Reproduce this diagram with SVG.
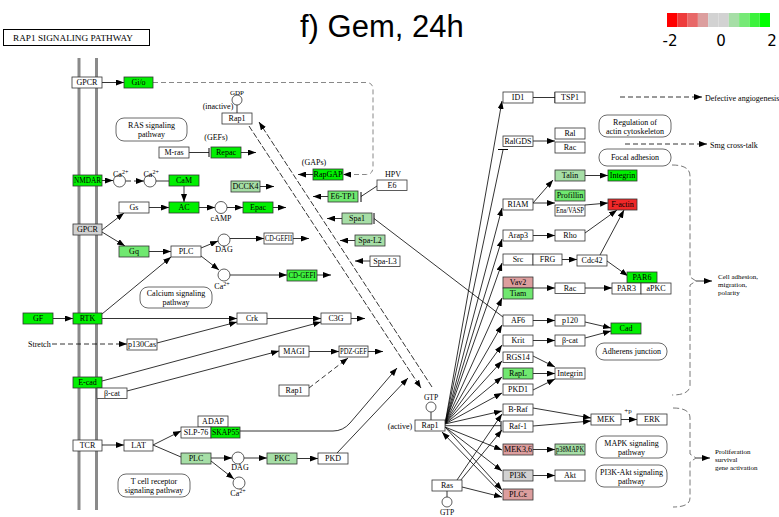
<svg xmlns="http://www.w3.org/2000/svg" width="779" height="517" viewBox="0 0 779 517">
<style>
.n{stroke:#333;stroke-width:0.8}
.w{fill:#fff}.g1{fill:#a6dea6}.g2{fill:#70e870}.g3{fill:#3df23d}.g4{fill:#00f000}.gr{fill:#d2d2d2}.p{fill:#dc9e9e}.r{fill:#f02828}
text{font-family:"Liberation Serif","Times New Roman",serif;font-size:8px;text-anchor:middle;fill:#000}
.s{text-anchor:start}
.o{font-size:7px}
.e{fill:none;stroke:#000;stroke-width:0.8}
.d{stroke-dasharray:5,3}
.bar{stroke:#000;stroke-width:1}
.pw{fill:#fff;stroke:#444;stroke-width:0.8}
.c{fill:#fff;stroke:#333;stroke-width:0.8}
.mem{stroke:#8a8a8a;stroke-width:3}
.br{fill:none;stroke:#555;stroke-width:0.8;stroke-dasharray:6,3}
</style>
<defs>
<marker id="a" viewBox="0 0 8 6" refX="8" refY="3" markerWidth="8" markerHeight="6" markerUnits="userSpaceOnUse" orient="auto"><path d="M0,0L8,3L0,6z" fill="#000"/></marker>
</defs>
<rect width="779" height="517" fill="#fff"/>
<text x="300" y="37" style="font-family:'Liberation Sans',Arial,sans-serif;font-size:31px;text-anchor:start">f) Gem, 24h</text>
<g id="legend">
<rect x="667" y="13" width="10.3" height="14" fill="#ff0000"/>
<rect x="677.3" y="13" width="10.3" height="14" fill="#ee3b3b"/>
<rect x="687.6" y="13" width="10.3" height="14" fill="#e86868"/>
<rect x="697.9" y="13" width="10.3" height="14" fill="#dc9e9e"/>
<rect x="708.2" y="13" width="10.3" height="14" fill="#d2d2d2"/>
<rect x="718.5" y="13" width="10.3" height="14" fill="#d2d2d2"/>
<rect x="728.8" y="13" width="10.3" height="14" fill="#a6dea6"/>
<rect x="739.1" y="13" width="10.3" height="14" fill="#76e976"/>
<rect x="749.4" y="13" width="10.3" height="14" fill="#3df23d"/>
<rect x="759.7" y="13" width="10.3" height="14" fill="#00ff00"/>
<text x="670" y="46" style="font-family:'DejaVu Sans',sans-serif;font-size:15px">-2</text>
<text x="721" y="46" style="font-family:'DejaVu Sans',sans-serif;font-size:15px">0</text>
<text x="772" y="46" style="font-family:'DejaVu Sans',sans-serif;font-size:15px">2</text>
</g>
<g id="header"><rect x="3.5" y="29.5" width="146" height="16" fill="#fff" stroke="#000" stroke-width="1"/><text class="s" x="13" y="41" textLength="120" lengthAdjust="spacingAndGlyphs">RAP1 SIGNALING PATHWAY</text></g>
<line class="mem" x1="79" y1="58" x2="79" y2="510"/>
<line class="mem" x1="96.5" y1="58" x2="96.5" y2="510"/>
<g id="edges">
<path class="e" d="M102,82.5H124" marker-end="url(#a)"/>
<path d="M153,82.5H366Q373,82.5 373,89.5V167Q373,174.5 366,174.5H343" fill="none" stroke="#888" stroke-width="1" stroke-dasharray="5,3" marker-end="url(#a)"/>
<path class="e" d="M189,152.5H209"/><line class="bar" x1="209" y1="148" x2="209" y2="157"/>
<path class="e" d="M241,152.5H256" marker-end="url(#a)"/>
<path class="e" d="M102,180.5H113" marker-end="url(#a)"/>
<path class="e d" d="M126,181H144" marker-end="url(#a)"/>
<path class="e" d="M156,181H169"/>
<path class="e" d="M184,186V202" marker-end="url(#a)"/>
<path class="e" d="M149,207.5H169" marker-end="url(#a)"/>
<path class="e" d="M199,207.5H215" marker-end="url(#a)"/>
<path class="e" d="M227,207.5H243" marker-end="url(#a)"/>
<path class="e" d="M273,207.5H286" marker-end="url(#a)"/>
<path class="e" d="M260,186.5H274" marker-end="url(#a)"/>
<path class="e" d="M102,230L124,213" marker-end="url(#a)"/>
<path class="e" d="M102,232L125,246" marker-end="url(#a)"/>
<path class="e" d="M149,251.5H171" marker-end="url(#a)"/>
<path class="e" d="M201,248L218,241" marker-end="url(#a)"/>
<path class="e" d="M201,256L219,270" marker-end="url(#a)"/>
<path class="e" d="M230,238.5H264" marker-end="url(#a)"/>
<path class="e" d="M293,238.5H309" marker-end="url(#a)"/>
<path class="e" d="M230,275H287" marker-end="url(#a)"/>
<path class="e" d="M317,275H331" marker-end="url(#a)"/>
<path class="e" d="M53,318.5H73" marker-end="url(#a)"/>
<path class="e" d="M102,318.5H237" marker-end="url(#a)"/>
<path class="e" d="M102,314L171,257" marker-end="url(#a)"/>
<path class="e d" d="M52,344H127" marker-end="url(#a)"/>
<path class="e" d="M157,343L237,322" marker-end="url(#a)"/>
<path class="e" d="M267,318.5H321" marker-end="url(#a)"/>
<path class="e" d="M351,318.5H365" marker-end="url(#a)"/>
<path class="e" d="M102,381L321,322" marker-end="url(#a)"/>
<path class="e" d="M127,391L279,351" marker-end="url(#a)"/>
<path class="e" d="M309,351.5H339" marker-end="url(#a)"/>
<path class="e" d="M368,351.5H383" marker-end="url(#a)"/>
<path class="e d" d="M309,388L348,358" marker-end="url(#a)"/>
<path class="e" d="M102,445H124" marker-end="url(#a)"/>
<path class="e" d="M153,445L181,431" marker-end="url(#a)"/>
<path class="e" d="M153,445L181,457"/>
<path class="e" d="M211,458H232" marker-end="url(#a)"/>
<path class="e" d="M211,461L234,479" marker-end="url(#a)"/>
<path class="e" d="M244,458H267" marker-end="url(#a)"/>
<path class="e" d="M297,458.5H318" marker-end="url(#a)"/>
<path class="e" d="M337,453L408,378" marker-end="url(#a)"/>
<path class="e" d="M240,431H333Q343,431 350,423L397,368" marker-end="url(#a)"/>
<path class="e" d="M249,126L421,388" stroke-dasharray="6,2" marker-end="url(#a)"/>
<path class="e" d="M432,387L259,122" stroke-dasharray="6,2" marker-end="url(#a)"/>
<path class="e" d="M377,186L361,196.5"/><line class="bar" x1="361" y1="192" x2="361" y2="202"/>
<path class="e" d="M328,196.5H313" marker-end="url(#a)"/>
<path class="e" d="M313,174.5H298" marker-end="url(#a)"/>
<path class="e" d="M342,218.5H327" marker-end="url(#a)"/>
<path class="e" d="M503,317L374,218.5"/><line class="bar" x1="374" y1="213" x2="374" y2="224"/>
<path class="e" d="M355,240.5H340" marker-end="url(#a)"/>
<path class="e" d="M370,261H355" marker-end="url(#a)"/>
<path class="e" d="M533,97.5H555"/><line class="bar" x1="555" y1="92" x2="555" y2="103"/>
<path class="e d" d="M620,97H702" marker-end="url(#a)"/>
<path class="e" d="M533,141H555" marker-end="url(#a)"/>
<path class="e d" d="M625,144H707" marker-end="url(#a)"/>
<path class="e" d="M585,175.5H608" marker-end="url(#a)"/>
<path class="e" d="M533,203L553,180" marker-end="url(#a)"/>
<path class="e" d="M533,203H555" marker-end="url(#a)"/>
<path class="e" d="M585,205L608,203" marker-end="url(#a)"/>
<path class="e" d="M533,235.5H555" marker-end="url(#a)"/>
<path class="e" d="M585,233L617,210" marker-end="url(#a)"/>
<path class="e" d="M562,259.5H577" marker-end="url(#a)"/>
<path class="e" d="M600,255L624,210" marker-end="url(#a)"/>
<path class="e" d="M607,261L628,276" marker-end="url(#a)"/>
<path class="e" d="M533,288H555" marker-end="url(#a)"/>
<path class="e" d="M585,288H612" marker-end="url(#a)"/>
<path class="e" d="M533,320.5H555" marker-end="url(#a)"/>
<path class="e" d="M585,322L611,328" marker-end="url(#a)"/>
<path class="e" d="M533,340.5H555" marker-end="url(#a)"/>
<path class="e" d="M585,338L611,331" marker-end="url(#a)"/>
<path class="e" d="M533,356L555,367" marker-end="url(#a)"/>
<path class="e" d="M533,373.5H555" marker-end="url(#a)"/>
<path class="e" d="M533,390L555,379" marker-end="url(#a)"/>
<path class="e" d="M533,408L591,418" marker-end="url(#a)"/>
<path class="e" d="M533,426L591,421" marker-end="url(#a)"/>
<path class="e" d="M621,419.5H637" marker-end="url(#a)"/>
<path class="e" d="M533,449.5H555" marker-end="url(#a)"/>
<path class="e" d="M533,475.5H555" marker-end="url(#a)"/>
<path class="br" d="M672,165Q690,165 690,176V277L696,281L690,285V385Q690,395 672,395"/>
<path class="e" d="M696,281H712" marker-end="url(#a)"/>
<path class="br" d="M673,408Q690,408 690,418V454L696,458L690,462V498Q690,507 673,507"/>
<path class="e" d="M696,458H710" marker-end="url(#a)"/>
<path class="e" d="M445,424L502,101" marker-end="url(#a)"/>
<path class="e" d="M445,424L503,150"/><line class="bar" x1="498" y1="149.5" x2="508" y2="149.5"/>
<path class="e" d="M445,424L502,208" marker-end="url(#a)"/>
<path class="e" d="M445,424L502,239" marker-end="url(#a)"/>
<path class="e" d="M445,424L502,263" marker-end="url(#a)"/>
<path class="e" d="M445,424L502,298" marker-end="url(#a)"/>
<path class="e" d="M445,424L502,325" marker-end="url(#a)"/>
<path class="e" d="M445,424L502,345" marker-end="url(#a)"/>
<path class="e" d="M445,424L502,361" marker-end="url(#a)"/>
<path class="e" d="M445,424L502,377" marker-end="url(#a)"/>
<path class="e" d="M445,424L502,393" marker-end="url(#a)"/>
<path class="e" d="M445,424L502,411" marker-end="url(#a)"/>
<path class="e" d="M445,425.7H501"/><line class="bar" x1="501" y1="421" x2="501" y2="431"/>
<path class="e" d="M445,427L502,450" marker-end="url(#a)"/>
<path class="e" d="M445,427L502,471" marker-end="url(#a)"/>
<path class="e" d="M445,427L502,490" marker-end="url(#a)"/>
<path class="e" d="M502,494L442,432" marker-end="url(#a)"/>
<path class="e" d="M457,480L502,414" marker-end="url(#a)"/>
<path class="e" d="M460,481L502,430" marker-end="url(#a)"/>
<path class="e" d="M462,487L502,497" marker-end="url(#a)"/>
<path class="e" d="M237,105V113"/>
<path class="e" d="M431,412V420"/>
<path class="e" d="M447,491V497"/>
</g>
<g id="map-ras"><rect class="pw" x="116" y="118" width="71" height="23" rx="8"/><text x="151.5" y="128">RAS signaling</text><text x="151.5" y="137">pathway</text></g>
<g id="map-calcium"><rect class="pw" x="140" y="287" width="72" height="21" rx="8"/><text x="176" y="296">Calcium signaling</text><text x="176" y="305">pathway</text></g>
<g id="map-tcr"><rect class="pw" x="118" y="474" width="72" height="23" rx="8"/><text x="154" y="484">T cell receptor</text><text x="154" y="493">signaling pathway</text></g>
<g id="map-actin"><rect class="pw" x="599" y="115" width="72" height="22" rx="8"/><text x="635" y="125">Regulation of</text><text x="635" y="133.5">actin cytoskeleton</text></g>
<g id="map-focal"><rect class="pw" x="599" y="149" width="72" height="17" rx="8"/><text x="635" y="160">Focal adhesion</text></g>
<g id="map-adherens"><rect class="pw" x="596" y="343" width="71" height="17" rx="8"/><text x="631.5" y="354">Adherens junction</text></g>
<g id="map-mapk"><rect class="pw" x="596" y="436" width="71" height="22" rx="8"/><text x="631.5" y="446">MAPK signaling</text><text x="631.5" y="455">pathway</text></g>
<g id="map-pi3k"><rect class="pw" x="596" y="465" width="71" height="22" rx="8"/><text x="631.5" y="475">PI3K-Akt signaling</text><text x="631.5" y="484">pathway</text></g>
<g id="n-GPCR1"><rect class="n w" x="72" y="77" width="30" height="11"/><text x="87" y="85.3">GPCR</text></g>
<g id="n-Gio"><rect class="n g4" x="124" y="77" width="29" height="11"/><text x="138.5" y="85.3">Gi/o</text></g>
<g id="n-Rap1-inactive"><rect class="n w" x="222" y="113" width="30" height="11"/><text x="237" y="121.3">Rap1</text></g>
<g id="n-GDP"><circle class="c" cx="237" cy="100" r="5"/><text x="237" y="94.5" style="font-size:7px">GDP</text><text x="218" y="109">(inactive)</text></g>
<g id="n-Mras"><rect class="n w" x="159" y="147" width="30" height="11"/><text x="174" y="155.3">M-ras</text></g>
<g id="n-Repac"><rect class="n g4" x="211" y="147" width="30" height="11"/><text x="226" y="155.3">Repac</text><text x="216" y="140">(GEFs)</text></g>
<g id="n-NMDAR"><rect class="n g4" x="73" y="175" width="29" height="11"/><text x="87.5" y="183.3" textLength="27" lengthAdjust="spacingAndGlyphs">NMDAR</text></g>
<g id="n-Ca1"><circle class="c" cx="119.5" cy="181" r="6"/><text class="s" x="113" y="177">Ca<tspan style="font-size:6px" dy="-3">2+</tspan></text></g>
<g id="n-Ca2"><circle class="c" cx="150" cy="181" r="6"/><text class="s" x="143.5" y="177">Ca<tspan style="font-size:6px" dy="-3">2+</tspan></text></g>
<g id="n-CaM"><rect class="n g4" x="169" y="175" width="30" height="11"/><text x="184" y="183.3">CaM</text></g>
<g id="n-DCCK4"><rect class="n g1" x="231" y="181" width="29" height="11"/><text x="245.5" y="189.3">DCCK4</text></g>
<g id="n-Gs"><rect class="n w" x="119" y="202" width="30" height="11"/><text x="134" y="210.3">Gs</text></g>
<g id="n-AC"><rect class="n g4" x="169" y="202" width="30" height="11"/><text x="184" y="210.3">AC</text></g>
<g id="n-cAMP"><circle class="c" cx="221" cy="207.5" r="6"/><text x="221" y="221">cAMP</text></g>
<g id="n-Epac"><rect class="n g4" x="243" y="202" width="30" height="11"/><text x="258" y="210.3">Epac</text></g>
<g id="n-GPCR2"><rect class="n gr" x="73" y="224" width="29" height="11"/><text x="87.5" y="232.3">GPCR</text></g>
<g id="n-Gq"><rect class="n g2" x="119" y="246" width="30" height="11"/><text x="134" y="254.3">Gq</text></g>
<g id="n-PLC1"><rect class="n w" x="171" y="246" width="30" height="11"/><text x="186" y="254.3">PLC</text></g>
<g id="n-DAG1"><circle class="c" cx="224" cy="240" r="6"/><text x="224" y="252">DAG</text></g>
<g id="n-Ca3"><circle class="c" cx="224" cy="275" r="6"/><text x="222" y="289">Ca<tspan style="font-size:6px" dy="-3">2+</tspan></text></g>
<g id="n-CDGEFII"><rect class="n w" x="264" y="233" width="29" height="11"/><text x="278.5" y="241.3" textLength="27" lengthAdjust="spacingAndGlyphs">CD-GEFII</text></g>
<g id="n-CDGEFI"><rect class="n g3" x="287" y="270" width="30" height="11"/><text x="302" y="278.3" textLength="27" lengthAdjust="spacingAndGlyphs">CD-GEFI</text></g>
<g id="n-GF"><rect class="n g4" x="23" y="313" width="30" height="11"/><text x="38" y="321.3">GF</text></g>
<g id="n-RTK"><rect class="n g4" x="73" y="313" width="29" height="11"/><text x="87.5" y="321.3">RTK</text></g>
<g id="n-Crk"><rect class="n w" x="237" y="313" width="30" height="11"/><text x="252" y="321.3">Crk</text></g>
<g id="n-C3G"><rect class="n w" x="321" y="313" width="30" height="11"/><text x="336" y="321.3">C3G</text></g>
<g id="n-p130Cas"><rect class="n w" x="127" y="339" width="30" height="11"/><text x="142" y="347.3" textLength="28" lengthAdjust="spacingAndGlyphs">p130Cas</text><text class="s" x="28" y="346.5">Stretch</text></g>
<g id="n-MAGI"><rect class="n w" x="279" y="346" width="30" height="11"/><text x="294" y="354.3">MAGI</text></g>
<g id="n-PDZGEF"><rect class="n w" x="339" y="346" width="29" height="11"/><text x="353.5" y="354.3" textLength="27" lengthAdjust="spacingAndGlyphs">PDZ-GEF</text></g>
<g id="n-Ecad"><rect class="n g4" x="73" y="377" width="29" height="11"/><text x="87.5" y="385.3">E-cad</text></g>
<g id="n-bcat1"><rect class="n w" x="97" y="388" width="30" height="10.5"/><text x="112" y="396.3">β-cat</text></g>
<g id="n-Rap1-lower"><rect class="n w" x="279" y="385" width="30" height="11"/><text x="294" y="393.3">Rap1</text></g>
<g id="n-ADAP"><rect class="n w" x="198" y="416" width="30" height="11"/><text x="213" y="424.3">ADAP</text></g>
<g id="n-SLP76"><rect class="n w" x="181" y="427" width="30" height="11"/><text x="196" y="435.3">SLP-76</text></g>
<g id="n-SKAP55"><rect class="n g4" x="211" y="427" width="29" height="11"/><text x="225.5" y="435.3" textLength="27" lengthAdjust="spacingAndGlyphs">SKAP55</text></g>
<g id="n-TCR"><rect class="n w" x="73" y="440" width="29" height="11"/><text x="87.5" y="448.3">TCR</text></g>
<g id="n-LAT"><rect class="n w" x="124" y="440" width="29" height="11"/><text x="138.5" y="448.3">LAT</text></g>
<g id="n-PLC2"><rect class="n g1" x="181" y="453" width="30" height="11"/><text x="196" y="461.3">PLC</text></g>
<g id="n-DAG2"><circle class="c" cx="238" cy="458" r="6"/><text x="240" y="470">DAG</text></g>
<g id="n-Ca4"><circle class="c" cx="239" cy="483" r="6"/><text x="238" y="496">Ca<tspan style="font-size:6px" dy="-3">2+</tspan></text></g>
<g id="n-PKC"><rect class="n g1" x="267" y="453" width="30" height="11"/><text x="282" y="461.3">PKC</text></g>
<g id="n-PKD"><rect class="n w" x="318" y="453" width="30" height="11"/><text x="333" y="461.3">PKD</text></g>
<g id="n-RapGAP"><rect class="n g4" x="313" y="169" width="30" height="11"/><text x="328" y="177.3">RapGAP</text><text x="314" y="165">(GAPs)</text></g>
<g id="n-E6"><rect class="n w" x="377" y="180" width="30" height="10.5"/><text x="392" y="188.3">E6</text><text x="393" y="176.5">HPV</text></g>
<g id="n-E6TP1"><rect class="n g2" x="328" y="191" width="30" height="11"/><text x="343" y="199.3">E6-TP1</text></g>
<g id="n-Spa1"><rect class="n g1" x="342" y="213" width="30" height="11"/><text x="357" y="221.3">Spa1</text></g>
<g id="n-SpaL2"><rect class="n g1" x="355" y="235" width="30" height="11"/><text x="370" y="243.3">Spa-L2</text></g>
<g id="n-SpaL3"><rect class="n w" x="370" y="256" width="30" height="10.5"/><text x="385" y="264.3">Spa-L3</text></g>
<g id="n-Rap1-active"><rect class="n w" x="415" y="420" width="30" height="11"/><text x="430" y="428.3">Rap1</text><text x="400" y="428.5">(active)</text></g>
<g id="n-GTP1"><circle class="c" cx="431" cy="407" r="5"/><text x="431" y="400" style="font-size:7.5px">GTP</text></g>
<g id="n-Ras"><rect class="n w" x="432" y="480" width="30" height="11"/><text x="447" y="488.3">Ras</text></g>
<g id="n-GTP2"><circle class="c" cx="447" cy="502" r="5"/><text x="447" y="515" style="font-size:7.5px">GTP</text></g>
<g id="n-ID1"><rect class="n w" x="503" y="92" width="30" height="11"/><text x="518" y="100.3">ID1</text></g>
<g id="n-TSP1"><rect class="n w" x="555" y="92" width="30" height="11"/><text x="570" y="100.3">TSP1</text></g>
<g id="n-RalGDS"><rect class="n w" x="503" y="136" width="30" height="10.5"/><text x="518" y="144.3" textLength="27" lengthAdjust="spacingAndGlyphs">RalGDS</text></g>
<g id="n-Ral"><rect class="n w" x="555" y="128" width="30" height="11"/><text x="570" y="136.3">Ral</text></g>
<g id="n-Rac1"><rect class="n w" x="555" y="142" width="30" height="11"/><text x="570" y="150.3">Rac</text></g>
<g id="n-Talin"><rect class="n g1" x="555" y="170" width="30" height="11"/><text x="570" y="178.3">Talin</text></g>
<g id="n-Integrin1"><rect class="n g4" x="608" y="170" width="29" height="11"/><text x="622.5" y="178.3">Integrin</text></g>
<g id="n-RIAM"><rect class="n w" x="503" y="199" width="30" height="11"/><text x="518" y="207.3">RIAM</text></g>
<g id="n-Profillin"><rect class="n g2" x="555" y="190" width="30" height="11"/><text x="570" y="198.3">Profillin</text></g>
<g id="n-EnaVASP"><rect class="n w" x="555" y="205" width="30" height="11"/><text x="570" y="213.3" textLength="28" lengthAdjust="spacingAndGlyphs">Ena/VASP</text></g>
<g id="n-Factin"><rect class="n r" x="608" y="199" width="29" height="11"/><text x="622.5" y="207.3">F-actin</text></g>
<g id="n-Arap3"><rect class="n w" x="503" y="230" width="30" height="11"/><text x="518" y="238.3">Arap3</text></g>
<g id="n-Rho"><rect class="n w" x="555" y="230" width="30" height="11"/><text x="570" y="238.3">Rho</text></g>
<g id="n-Src"><rect class="n w" x="503" y="254" width="30" height="11"/><text x="518" y="262.3">Src</text></g>
<g id="n-FRG"><rect class="n w" x="533" y="254" width="29" height="11"/><text x="547.5" y="262.3">FRG</text></g>
<g id="n-Cdc42"><rect class="n w" x="577" y="255" width="30" height="11"/><text x="592" y="263.3">Cdc42</text></g>
<g id="n-PAR6"><rect class="n g4" x="627" y="272" width="30" height="11"/><text x="642" y="280.3">PAR6</text></g>
<g id="n-PAR3"><rect class="n w" x="612" y="283" width="29" height="11"/><text x="626.5" y="291.3">PAR3</text></g>
<g id="n-aPKC"><rect class="n w" x="641" y="283" width="30" height="11"/><text x="656" y="291.3">aPKC</text></g>
<g id="n-Vav2"><rect class="n p" x="503" y="277" width="30" height="11"/><text x="518" y="285.3">Vav2</text></g>
<g id="n-Tiam"><rect class="n g2" x="503" y="288" width="30" height="11"/><text x="518" y="296.3">Tiam</text></g>
<g id="n-Rac2"><rect class="n w" x="555" y="283" width="30" height="10.5"/><text x="570" y="291.3">Rac</text></g>
<g id="n-AF6"><rect class="n w" x="503" y="315" width="30" height="11"/><text x="518" y="323.3">AF6</text></g>
<g id="n-p120"><rect class="n w" x="555" y="315" width="30" height="11"/><text x="570" y="323.3">p120</text></g>
<g id="n-Cad"><rect class="n g4" x="611" y="323" width="30" height="11"/><text x="626" y="331.3">Cad</text></g>
<g id="n-Krit"><rect class="n w" x="503" y="335" width="30" height="11"/><text x="518" y="343.3">Krit</text></g>
<g id="n-bcat2"><rect class="n w" x="555" y="335" width="30" height="11"/><text x="570" y="343.3">β-cat</text></g>
<g id="n-RGS14"><rect class="n w" x="503" y="352" width="30" height="10.5"/><text x="518" y="360.3">RGS14</text></g>
<g id="n-RapL"><rect class="n g2" x="503" y="368" width="30" height="11"/><text x="518" y="376.3">RapL</text></g>
<g id="n-PKD1"><rect class="n w" x="503" y="384" width="30" height="11"/><text x="518" y="392.3">PKD1</text></g>
<g id="n-Integrin2"><rect class="n w" x="555" y="368" width="30" height="11"/><text x="570" y="376.3">Integrin</text></g>
<g id="n-BRaf"><rect class="n w" x="503" y="404" width="30" height="11"/><text x="518" y="412.3">B-Raf</text></g>
<g id="n-Raf1"><rect class="n w" x="503" y="421" width="30" height="11"/><text x="518" y="429.3">Raf-1</text></g>
<g id="n-MEK"><rect class="n w" x="591" y="414" width="30" height="11"/><text x="606" y="422.3">MEK</text></g>
<g id="n-ERK"><rect class="n w" x="637" y="414" width="30" height="11"/><text x="652" y="422.3">ERK</text><text x="628" y="412.5" style="font-size:7px">+p</text></g>
<g id="n-MEK36"><rect class="n p" x="503" y="444" width="30" height="11"/><text x="518" y="452.3">MEK3,6</text></g>
<g id="n-p38MAPK"><rect class="n g1" x="555" y="444" width="30" height="11"/><text x="570" y="452.3" textLength="28" lengthAdjust="spacingAndGlyphs">p38MAPK</text></g>
<g id="n-PI3K"><rect class="n gr" x="503" y="470" width="30" height="11"/><text x="518" y="478.3">PI3K</text></g>
<g id="n-Akt"><rect class="n w" x="555" y="470" width="30" height="11"/><text x="570" y="478.3">Akt</text></g>
<g id="n-PLCe"><rect class="n p" x="503" y="489" width="30" height="11"/><text x="518" y="497.3">PLCε</text></g>
<text class="s" x="705" y="100.5">Defective angiogenesis</text>
<text class="s" x="710" y="147.5">Smg cross-talk</text>
<text class="s o" x="718" y="279">Cell adhesion,</text>
<text class="s o" x="718" y="287">migration,</text>
<text class="s o" x="718" y="295">polarity</text>
<text class="s o" x="715" y="454">Proliferation</text>
<text class="s o" x="715" y="462">survival</text>
<text class="s o" x="715" y="470">gene activation</text>
</svg>
